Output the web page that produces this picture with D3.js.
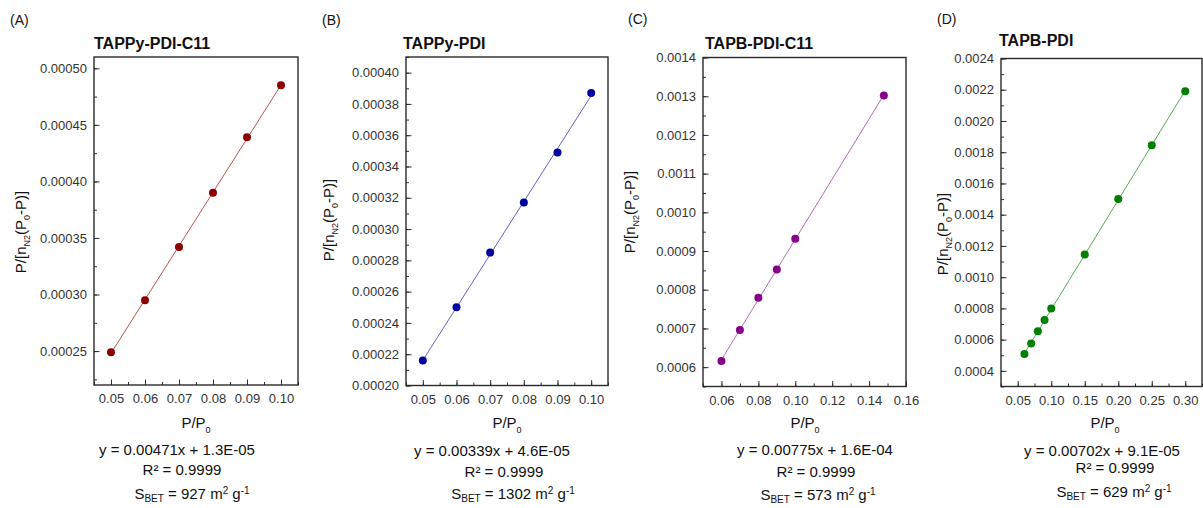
<!DOCTYPE html>
<html>
<head>
<meta charset="utf-8">
<script src="https://cdn.jsdelivr.net/npm/d3@7"></script>
<style>
  body { margin: 0; background: #fff; }
  svg { font-family: "Liberation Sans", Arial, sans-serif; }
  .tick text { fill: #333; font-size: 13px; }
  .tick line { stroke: #333; }
</style>
</head>
<body>
<svg id="chart" width="1203" height="508"></svg>
<script>
// data
const xA = [0.05, 0.06, 0.07, 0.08, 0.09, 0.10];
const yA = [0.000249, 0.000295, 0.000342, 0.000390, 0.000439, 0.000485];

const xB = [0.05, 0.06, 0.07, 0.08, 0.09, 0.10];
const yB = [0.000216, 0.000250, 0.000285, 0.000317, 0.000349, 0.000387];

const xC = [0.06, 0.07, 0.08, 0.09, 0.10, 0.148];
const yC = [0.000616, 0.000696, 0.000779, 0.000852, 0.000932, 0.001302];

const xD = [0.06, 0.07, 0.08, 0.09, 0.10, 0.15, 0.20, 0.25, 0.30];
const yD = [0.000508, 0.000576, 0.000654, 0.000725, 0.000800, 0.001145, 0.001500, 0.001845, 0.002190];

const letters = ["(A)", "(B)", "(C)", "(D)"];
const titles = ["TAPPy-PDI-C11", "TAPPy-PDI", "TAPB-PDI-C11", "TAPB-PDI"];
const equations = ["y = 0.00471x + 1.3E-05", "y = 0.00339x + 4.6E-05", "y = 0.00775x + 1.6E-04", "y = 0.00702x + 9.1E-05"];
const r2Labels = ["R² = 0.9999", "R² = 0.9999", "R² = 0.9999", "R² = 0.9999"];
const sbet = ["927", "1302", "573", "629"];

const panels = [
  { xs: xA, ys: yA, color: "#8b0000", lineColor: "#b85450",
    box: { l: 94, r: 298, t: 57, b: 385 },
    xDomain: [0.045, 0.105], xMajor: [0.05, 0.01, 6], xMinor: [0.045, 0.005, 13], xFmt: ".2f",
    yDomain: [0.00022, 0.00051], yMajor: [0.00025, 0.00005, 6], yMinor: [0.000225, 0.000025, 12], yFmt: ".5f",
    letter: [10, 25], title: [94, 49], ylab: [21, 232], xlab: 196,
    eq: [177, 455], r2: [182, 475], s: [192, 499] },
  { xs: xB, ys: yB, color: "#0000a0", lineColor: "#6464c8",
    box: { l: 406, r: 608, t: 57, b: 385.5 },
    xDomain: [0.045, 0.105], xMajor: [0.05, 0.01, 6], xMinor: [0.045, 0.005, 13], xFmt: ".2f",
    yDomain: [0.0002, 0.00041], yMajor: [0.0002, 0.00002, 11], yMinor: [0.0002, 0.00001, 22], yFmt: ".5f",
    letter: [322, 25], title: [403, 49], ylab: [329, 220], xlab: 507,
    eq: [492, 456], r2: [504, 477], s: [513, 499] },
  { xs: xC, ys: yC, color: "#880088", lineColor: "#b46eb4",
    box: { l: 703, r: 906, t: 57.5, b: 386.5 },
    xDomain: [0.05, 0.16], xMajor: [0.06, 0.02, 6], xMinor: [0.05, 0.01, 12], xFmt: ".2f",
    yDomain: [0.00055, 0.0014], yMajor: [0.0006, 0.0001, 9], yMinor: [0.00055, 0.00005, 18], yFmt: ".4f",
    letter: [628, 24], title: [705, 49], ylab: [630, 212], xlab: 805,
    eq: [815, 455], r2: [816, 477], s: [818, 500] },
  { xs: xD, ys: yD, color: "#008000", lineColor: "#5aaa5a",
    box: { l: 1001, r: 1202, t: 58.5, b: 386.5 },
    xDomain: [0.025, 0.325], xMajor: [0.05, 0.05, 6], xMinor: [0.025, 0.025, 13], xFmt: ".2f",
    yDomain: [0.0003, 0.0024], yMajor: [0.0004, 0.0002, 11], yMinor: [0.0003, 0.0001, 22], yFmt: ".4f",
    letter: [937, 24], title: [999, 46], ylab: [943, 234], xlab: 1105,
    eq: [1102, 456], r2: [1115, 473], s: [1114, 497] }
];

const svg = d3.select("#chart");

function steps(spec) {
  const [start, step, n] = spec;
  return d3.range(n).map(i => +(start + i * step).toFixed(8));
}

// least squares fit through the points
function fit(xs, ys) {
  const mx = d3.mean(xs), my = d3.mean(ys);
  let sxy = 0, sxx = 0;
  xs.forEach((v, i) => { sxy += (v - mx) * (ys[i] - my); sxx += (v - mx) * (v - mx); });
  const k = sxy / sxx;
  return { k: k, b: my - k * mx };
}

function drawPanel(p, i) {
  const g = svg.append("g");
  const x = d3.scaleLinear().domain(p.xDomain).range([p.box.l, p.box.r]);
  const y = d3.scaleLinear().domain(p.yDomain).range([p.box.b, p.box.t]);

  // minor ticks
  g.append("g")
    .attr("transform", `translate(${p.box.l},0)`)
    .call(d3.axisLeft(y).tickValues(steps(p.yMinor).filter(v => v <= p.yDomain[1])).tickSize(-3).tickFormat(""))
    .call(a => a.select(".domain").remove());
  g.append("g")
    .attr("transform", `translate(0,${p.box.b})`)
    .call(d3.axisBottom(x).tickValues(steps(p.xMinor).filter(v => v <= p.xDomain[1])).tickSize(-3).tickFormat(""))
    .call(a => a.select(".domain").remove());

  // major ticks
  g.append("g")
    .attr("transform", `translate(${p.box.l},0)`)
    .call(d3.axisLeft(y).tickValues(steps(p.yMajor)).tickSize(-5.5).tickPadding(7).tickFormat(d3.format(p.yFmt)))
    .call(a => a.select(".domain").remove());
  g.append("g")
    .attr("transform", `translate(0,${p.box.b})`)
    .call(d3.axisBottom(x).tickValues(steps(p.xMajor)).tickSize(-5.5).tickPadding(9).tickFormat(d3.format(p.xFmt)))
    .call(a => a.select(".domain").remove());

  g.selectAll(".tick text").attr("font-family", null).attr("font-size", null);

  // frame
  g.append("rect")
    .attr("x", p.box.l).attr("y", p.box.t)
    .attr("width", p.box.r - p.box.l).attr("height", p.box.b - p.box.t)
    .attr("fill", "none").attr("stroke", "#2a2a2a").attr("stroke-width", 1.4);

  // fit line
  const f = fit(p.xs, p.ys);
  const x0 = d3.min(p.xs), x1 = d3.max(p.xs);
  g.append("line")
    .attr("x1", x(x0)).attr("y1", y(f.k * x0 + f.b))
    .attr("x2", x(x1)).attr("y2", y(f.k * x1 + f.b))
    .attr("stroke", p.lineColor).attr("stroke-width", 1);

  g.selectAll(".pt")
    .data(p.xs.map((v, j) => [v, p.ys[j]]))
    .join("circle")
    .attr("class", "pt")
    .attr("cx", d => x(d[0]))
    .attr("cy", d => y(d[1]))
    .attr("r", 4)
    .attr("fill", p.color);

  // letter + title
  g.append("text").attr("x", p.letter[0]).attr("y", p.letter[1])
    .attr("font-size", 14).attr("fill", "#111").text(letters[i]);
  g.append("text").attr("x", p.title[0]).attr("y", p.title[1])
    .attr("font-size", 16).attr("font-weight", "bold").attr("fill", "#111").text(titles[i]);

  // y axis title
  const yl = g.append("text")
    .attr("transform", `translate(${p.ylab[0] + 5},${p.ylab[1]}) rotate(-90)`)
    .attr("text-anchor", "middle").attr("font-size", 15).attr("fill", "#111");
  yl.append("tspan").text("P/[n");
  yl.append("tspan").attr("font-size", 9).attr("dy", 4).text("N2");
  yl.append("tspan").attr("dy", -4).text("(P");
  yl.append("tspan").attr("font-size", 9).attr("dy", 4).text("0");
  yl.append("tspan").attr("dy", -4).text("-P)]");

  // x axis title
  const xl = g.append("text").attr("x", p.xlab).attr("y", 428)
    .attr("text-anchor", "middle").attr("font-size", 15).attr("fill", "#111");
  xl.append("tspan").text("P/P");
  xl.append("tspan").attr("font-size", 9).attr("dy", 5).text("0");

  // fit annotations
  g.append("text").attr("x", p.eq[0]).attr("y", p.eq[1])
    .attr("text-anchor", "middle").attr("font-size", 15).attr("fill", "#111").text(equations[i]);
  g.append("text").attr("x", p.r2[0]).attr("y", p.r2[1])
    .attr("text-anchor", "middle").attr("font-size", 15).attr("fill", "#111").text(r2Labels[i]);
  const st = g.append("text").attr("x", p.s[0]).attr("y", p.s[1])
    .attr("text-anchor", "middle").attr("font-size", 15).attr("fill", "#111");
  st.append("tspan").text("S");
  st.append("tspan").attr("font-size", 10).attr("dy", 3).text("BET");
  st.append("tspan").attr("dy", -3).text(" = " + sbet[i] + " m");
  st.append("tspan").attr("font-size", 10).attr("dy", -5).text("2");
  st.append("tspan").attr("dy", 5).text(" g");
  st.append("tspan").attr("font-size", 10).attr("dy", -5).text("-1");
}

panels.forEach(drawPanel);
</script>
</body>
</html>
